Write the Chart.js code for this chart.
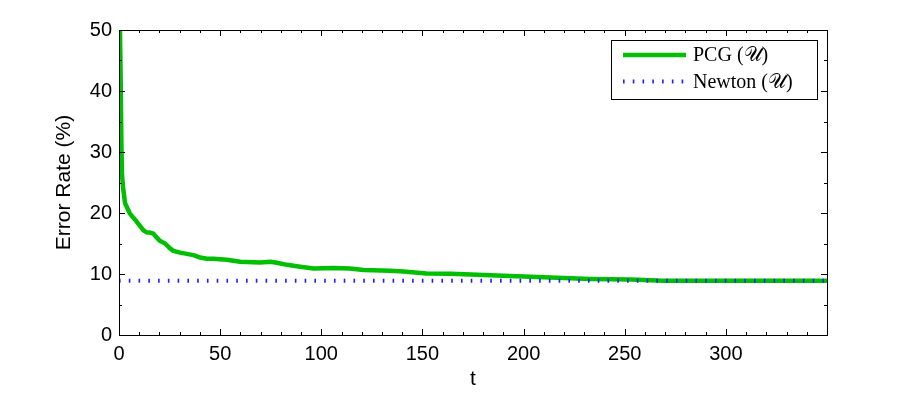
<!DOCTYPE html>
<html>
<head>
<meta charset="utf-8">
<script src="https://cdn.jsdelivr.net/npm/chart.js@4/dist/chart.umd.min.js"></script>
<style>
html,body{margin:0;padding:0;background:#fff;}
#wrap{position:relative;width:913px;height:394px;}
</style>
</head>
<body>
<div id="wrap"><canvas id="c" width="913" height="394"></canvas></div>
<script>
// ---- data ----
const pcgT = [0, 0.7, 1.2, 1.5, 2, 3, 5.4, 8.7, 12, 13.7, 15.3, 17, 18.6, 20.3, 22.8, 25.2, 26.9, 30.2, 33.5, 36.8, 40.1, 43.4, 46.7, 53.3, 59.9, 69.8, 74.8, 78.1, 83, 89.6, 96.2, 106, 114, 121, 134, 140.6, 152, 164, 174, 190, 203.5, 220, 233, 253, 269, 300, 350];
const pcgValues = [60, 45, 31, 26.2, 24.2, 21.6, 19.9, 18.6, 17.2, 16.8, 16.8, 16.6, 16.0, 15.4, 15.0, 14.2, 13.8, 13.5, 13.3, 13.1, 12.7, 12.5, 12.5, 12.35, 12.0, 11.9, 12.0, 11.85, 11.5, 11.2, 10.9, 11.0, 10.9, 10.65, 10.55, 10.4, 10.1, 10.05, 9.9, 9.73, 9.56, 9.34, 9.2, 9.1, 8.9, 8.9, 8.9];
const newtonT = [0, 350];
const newtonValues = [8.9, 8.9];
const seriesLabels = ['PCG (\u{1D4B0})', 'Newton (\u{1D4B0})'];
const xTicks = [0, 50, 100, 150, 200, 250, 300];
const yTicks = [0, 10, 20, 30, 40, 50];

const toXY = (xs, ys) => xs.map((x, i) => ({x: x, y: ys[i]}));

const frameTicks = {
  id: 'frameTicks',
  afterDatasetsDraw(chart) {
    const {ctx, chartArea: a, scales} = chart;
    const xs = scales.x, ys = scales.y;
    ctx.save();
    ctx.strokeStyle = '#000';
    ctx.lineWidth = 1;
    const major = 6, minor = 3;
    ctx.beginPath();
    for (let v = 0; v <= 350; v += 10) {
      const px = Math.round(xs.getPixelForValue(v)) + 0.5;
      const L = v % 50 === 0 ? major : minor;
      ctx.moveTo(px, a.bottom); ctx.lineTo(px, a.bottom - L);
      ctx.moveTo(px, a.top); ctx.lineTo(px, a.top + L);
    }
    for (let v = 0; v <= 50; v += 5) {
      const py = Math.round(ys.getPixelForValue(v)) + 0.5;
      const L = v % 10 === 0 ? major : minor;
      ctx.moveTo(a.left, py); ctx.lineTo(a.left + L, py);
      ctx.moveTo(a.right, py); ctx.lineTo(a.right - L, py);
    }
    ctx.stroke();
    ctx.strokeRect(Math.round(a.left) + 0.5, Math.round(a.top) + 0.5, Math.round(a.right - a.left), Math.round(a.bottom - a.top));
    ctx.restore();
  }
};

const boxLegend = {
  id: 'boxLegend',
  afterDraw(chart) {
    const {ctx, chartArea: a} = chart;
    const w = 206, h = 59;
    const bx = a.right - 10 - w, by = a.top + 10;
    ctx.save();
    ctx.fillStyle = '#fff';
    ctx.fillRect(bx, by, w, h);
    ctx.strokeStyle = '#000';
    ctx.lineWidth = 1;
    ctx.strokeRect(Math.round(bx) + 0.5, Math.round(by) + 0.5, w, h);
    const rows = [by + 15, by + 41.5];
    chart.data.datasets.forEach((ds, i) => {
      const y = rows[i];
      ctx.beginPath();
      ctx.strokeStyle = ds.borderColor;
      ctx.lineWidth = ds.borderWidth;
      ctx.setLineDash(ds.borderDash || []);
      ctx.moveTo(bx + 12, y); ctx.lineTo(bx + 75, y);
      ctx.stroke();
      ctx.setLineDash([]);
      ctx.fillStyle = '#000';
      ctx.font = '20px "Liberation Serif", "DejaVu Serif", serif';
      ctx.textBaseline = 'middle';
      ctx.textAlign = 'left';
      ctx.fillText(ds.label, bx + 82, y + 1);
    });
    ctx.restore();
  }
};

new Chart(document.getElementById('c'), {
  type: 'line',
  data: {
    datasets: [
      {
        label: seriesLabels[0],
        data: toXY(pcgT, pcgValues),
        borderColor: 'rgb(0,190,0)',
        borderWidth: 4.5,
        borderJoinStyle: 'round',
        pointRadius: 0,
        tension: 0,
        order: 1
      },
      {
        label: seriesLabels[1],
        data: toXY(newtonT, newtonValues),
        borderColor: 'rgb(30,30,255)',
        borderWidth: 4,
        borderDash: [1.6, 8.17],
        borderCapStyle: 'butt',
        pointRadius: 0,
        order: 0
      }
    ]
  },
  plugins: [frameTicks, boxLegend],
  options: {
    responsive: false,
    animation: false,
    devicePixelRatio: 1,
    layout: {padding: {left: 0, top: 30, right: 86, bottom: 0}},
    plugins: {legend: {display: false}, tooltip: {enabled: false}},
    scales: {
      x: {
        type: 'linear',
        min: 0, max: 350,
        afterBuildTicks: s => { s.ticks = xTicks.map(v => ({value: v})); },
        afterFit: s => { s.height = 59; },
        grid: {display: false, drawTicks: false},
        border: {display: false},
        ticks: {color: '#000', padding: 7, font: {family: '"Liberation Sans", Arial, sans-serif', size: 20}, maxRotation: 0, autoSkip: false},
        title: {display: true, text: 't', color: '#000', font: {family: '"Liberation Sans", Arial, sans-serif', size: 21}, padding: {top: 0, bottom: 2}}
      },
      y: {
        min: 0, max: 50,
        afterBuildTicks: s => { s.ticks = yTicks.map(v => ({value: v})); },
        afterFit: s => { s.width = 119; },
        grid: {display: false, drawTicks: false},
        border: {display: false},
        ticks: {color: '#000', padding: 7, font: {family: '"Liberation Sans", Arial, sans-serif', size: 20}},
        title: {display: true, text: 'Error Rate (%)', color: '#000', font: {family: '"Liberation Sans", Arial, sans-serif', size: 21}, padding: {top: 52, bottom: 0}}
      }
    }
  }
});
</script>
</body>
</html>
